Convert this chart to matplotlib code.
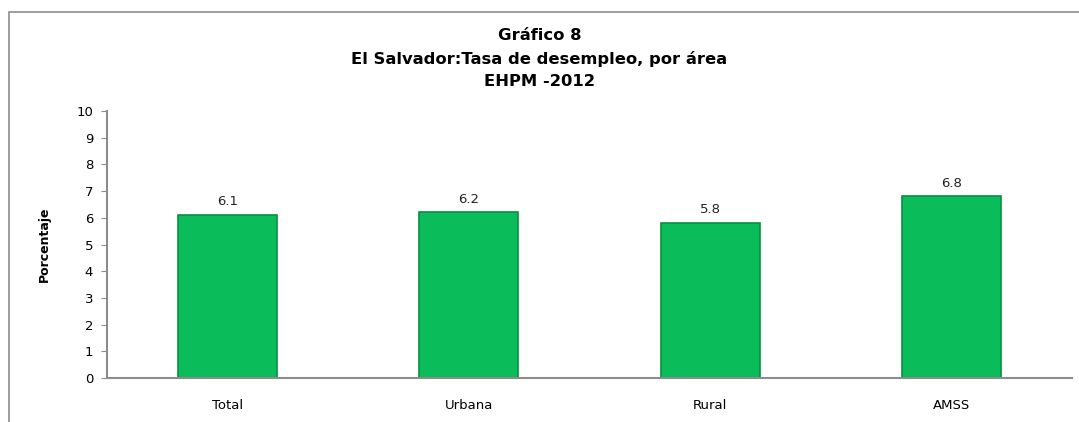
import numpy as np
import matplotlib.pyplot as plt
from matplotlib.patches import Rectangle

categories = ["Total", "Urbana", "Rural", "AMSS"]
values = [6.1, 6.2, 5.8, 6.8]
yticks = list(range(0, 11))

W, H = 1079, 422
fig = plt.figure(figsize=(W / 100, H / 100), dpi=100)

# outer chart frame
fig.patches.append(Rectangle((9 / W, -0.05), 1.2, 1 - 12 / H + 0.05,
                             transform=fig.transFigure, fill=False,
                             edgecolor="#8c8c8c", linewidth=1.2))

ax = fig.add_axes([107 / W, 1 - 378 / H, (1072 - 107) / W, (378 - 111) / H])

x = np.arange(len(categories))
ax.bar(x, values, width=0.41, color="#0BBD5A", edgecolor="#07913F", linewidth=1.2)
for xi, v in zip(x, values):
    ax.text(xi, v + 0.25, f"{v:.1f}", ha="center", va="bottom", fontsize=9.5, color="#222222")

ax.set_xlim(-0.5, len(categories) - 0.5)
ax.set_ylim(0, 10)
ax.set_yticks(yticks)
ax.set_xticks(x)
ax.set_xticklabels(categories, fontsize=9.5)
ax.tick_params(axis="y", labelsize=9.5, length=4, color="#8c8c8c", pad=6)
ax.tick_params(axis="x", length=0, pad=15)
for s in ["top", "right"]:
    ax.spines[s].set_visible(False)
for s in ["left", "bottom"]:
    ax.spines[s].set_color("#8c8c8c")
    ax.spines[s].set_linewidth(1.5)

ax.set_ylabel("Porcentaje", fontsize=9, fontweight="bold", labelpad=18)

title_kw = dict(ha="center", va="center", fontsize=11.8, fontweight="bold")
fig.text(0.5, 1 - 36 / H, "Gráfico 8", **title_kw)
fig.text(0.5, 1 - 59 / H, "El Salvador:Tasa de desempleo, por área", **title_kw)
fig.text(0.5, 1 - 82 / H, "EHPM -2012", **title_kw)

plt.savefig("out.png", dpi=100)
